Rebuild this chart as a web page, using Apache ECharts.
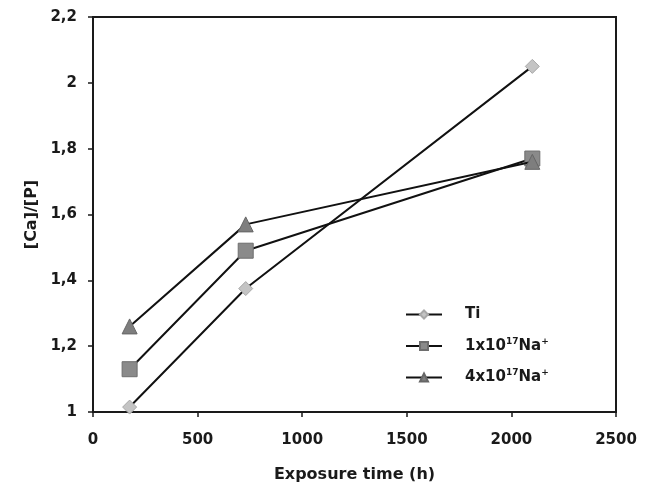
<!DOCTYPE html>
<html>
<head>
<meta charset="utf-8">
<script src="https://cdn.jsdelivr.net/npm/echarts@6/dist/echarts.min.js"></script>
<style>
  html, body { margin: 0; padding: 0; background: #fff; }
  #main { width: 652px; height: 488px; }
</style>
</head>
<body>
<div id="main"></div>
<script>
// data
var hours = [175, 730, 2100];
var ti = [1.015, 1.375, 2.05];
var na1 = [1.13, 1.49, 1.77];
var na4 = [1.26, 1.57, 1.76];
var seriesNames = ['Ti', '1x10{s|17}Na{s|+}', '4x10{s|17}Na{s|+}'];

function pairs(ys) {
    return hours.map(function (h, i) { return [h, ys[i]]; });
}

var myChart = echarts.init(document.getElementById('main'));
var font = 'DejaVu Sans, Verdana, sans-serif';

var option = {
    backgroundColor: '#fff',
    animation: false,
    grid: {
        left: 93, right: 36, top: 17, bottom: 74,
        show: true,
        borderColor: '#1a1a1a',
        borderWidth: 2
    },
    legend: {
        orient: 'vertical',
        left: 400,
        top: 302,
        itemWidth: 36,
        itemHeight: 10,
        itemGap: 15,
        textStyle: {
            fontFamily: font, fontWeight: 'bold', fontSize: 15, color: '#1a1a1a',
            padding: [0, 0, 0, 18],
            rich: {
                s: { fontFamily: font, fontWeight: 'bold', fontSize: 9, verticalAlign: 'top', padding: [0, 0, 9, 0], color: '#1a1a1a' }
            }
        },
        data: seriesNames
    },
    xAxis: {
        type: 'value',
        min: 0, max: 2500, interval: 500,
        name: 'Exposure time (h)',
        nameLocation: 'middle',
        nameGap: 55,
        nameTextStyle: { fontFamily: font, fontWeight: 'bold', fontSize: 16, color: '#1a1a1a' },
        axisLine: { show: true, lineStyle: { color: '#1a1a1a', width: 2 } },
        axisTick: { show: true, length: 5, lineStyle: { color: '#1a1a1a', width: 1.5 } },
        axisLabel: {
            margin: 21, fontFamily: font, fontWeight: 'bold', fontSize: 15, color: '#1a1a1a',
            formatter: function (v) { return String(v); }
        },
        splitLine: { show: false }
    },
    yAxis: {
        type: 'value',
        min: 1, max: 2.2, interval: 0.2,
        name: '[Ca]/[P]',
        nameLocation: 'middle',
        nameGap: 47,
        nameTextStyle: { fontFamily: font, fontWeight: 'bold', fontSize: 16, color: '#1a1a1a' },
        axisLine: { show: true, lineStyle: { color: '#1a1a1a', width: 2 } },
        axisTick: { show: true, length: 5, lineStyle: { color: '#1a1a1a', width: 1.5 } },
        axisLabel: {
            margin: 16, fontFamily: font, fontWeight: 'bold', fontSize: 15, color: '#1a1a1a',
            formatter: function (v) { return String(Math.round(v * 10) / 10).replace('.', ','); }
        },
        splitLine: { show: false }
    },
    series: [{
        name: seriesNames[0],
        type: 'line',
        data: pairs(ti),
        symbol: 'diamond',
        symbolSize: 14,
        itemStyle: { color: '#c4c4c4', borderColor: '#a8a8a8', borderWidth: 1 },
        lineStyle: { color: '#111', width: 2 },
        z: 3
    }, {
        name: seriesNames[1],
        type: 'line',
        data: pairs(na1),
        symbol: 'rect',
        symbolSize: 15,
        itemStyle: { color: '#8a8a8a', borderColor: '#6e6e6e', borderWidth: 1 },
        lineStyle: { color: '#111', width: 2 },
        z: 4
    }, {
        name: seriesNames[2],
        type: 'line',
        data: pairs(na4),
        symbol: 'triangle',
        symbolSize: 15,
        itemStyle: { color: '#7e7e7e', borderColor: '#666', borderWidth: 1 },
        lineStyle: { color: '#111', width: 2 },
        z: 5
    }]
};

myChart.setOption(option);
</script>
</body>
</html>
